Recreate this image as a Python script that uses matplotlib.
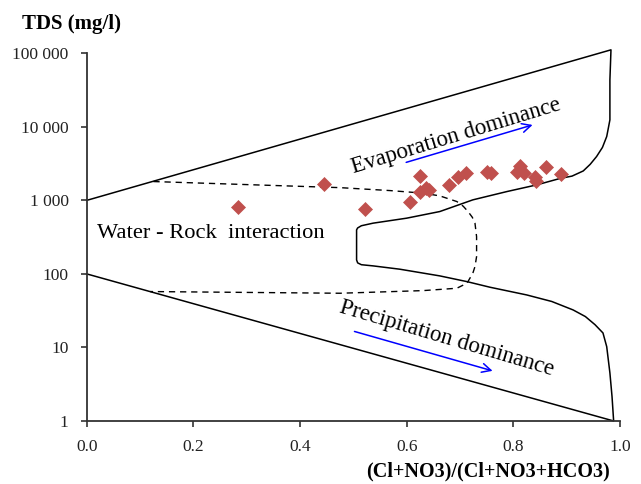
import numpy as np
import matplotlib
matplotlib.use("Agg")
import matplotlib.pyplot as plt

# ---- data: samples ----
ratio = [0.284, 0.445, 0.522, 0.606, 0.624, 0.625, 0.636, 0.642, 0.680, 0.697,
         0.711, 0.750, 0.758, 0.806, 0.812, 0.819, 0.841, 0.842, 0.861, 0.889]
tds = [816, 1661, 766, 946, 2153, 1293, 1494, 1390, 1625, 2108,
       2390, 2465, 2345, 2465, 2946, 2390, 2108, 1860, 2884, 2270]

# ---- Gibbs envelope (x, log10 TDS) ----
env_x = [0.0, 0.983, 0.981, 0.981, 0.978, 0.975, 0.967, 0.956, 0.944, 0.931, 0.910, 0.888,
         0.844, 0.788, 0.724, 0.662, 0.600, 0.537, 0.515, 0.508, 0.506,
         0.506, 0.508, 0.515, 0.537, 0.587, 0.662, 0.713, 0.756, 0.825, 0.872, 0.912,
         0.935, 0.953, 0.968, 0.975, 0.981, 0.985, 0.988, 0.0]
env_logy = [3.0, 5.047, 4.639, 4.095, 3.98, 3.868, 3.72, 3.596, 3.49, 3.40, 3.33, 3.299,
            3.211, 3.120, 3.007, 2.848, 2.758, 2.690, 2.655, 2.625, 2.599,
            2.190, 2.150, 2.125, 2.109, 2.064, 1.973, 1.895, 1.819, 1.714, 1.625, 1.510,
            1.42, 1.31, 1.197, 1.011, 0.653, 0.33, 0.0, 2.0]

# ---- water-rock interaction field (dashed) ----
wr_x = [0.125, 0.475, 0.569, 0.631, 0.662, 0.694, 0.706, 0.715, 0.723, 0.728, 0.731,
        0.731, 0.728, 0.724, 0.713, 0.694, 0.631, 0.475, 0.119]
wr_logy = [3.256, 3.173, 3.133, 3.098, 3.061, 2.984, 2.92, 2.848, 2.77, 2.690, 2.507,
           2.235, 2.10, 2.010, 1.873, 1.805, 1.773, 1.737, 1.76]

xticks = [0.0, 0.2, 0.4, 0.6, 0.8, 1.0]
xtick_labels = ["0.0", "0.2", "0.4", "0.6", "0.8", "1.0"]
yticks = [1, 10, 100, 1000, 10000, 100000]
ytick_labels = ["1", "10", "100", "1 000", "10 000", "100 000"]

serif = "Liberation Serif"

fig = plt.figure(figsize=(6.41, 4.84), dpi=100)
ax = fig.add_axes([0.1353, 0.1302, 0.832, 0.7597])

ax.set_yscale("log")
ax.set_xlim(0, 1)
ax.set_ylim(1, 100000)

ax.plot(env_x, 10 ** np.array(env_logy), color="black", lw=1.1, clip_on=False,
        solid_joinstyle="round")
ax.plot(wr_x, 10 ** np.array(wr_logy), color="black", lw=1.0, ls=(0, (4.5, 3.5)),
        clip_on=False)

ax.plot(ratio, tds, ls="none", marker="D", ms=7.0, color="#C0504D",
        markeredgecolor="#C0504D", markeredgewidth=0.5, zorder=5)

# arrows
ax.annotate("", xy=(0.841, 10880), xytext=(0.594, 3206),
            arrowprops=dict(arrowstyle="->", color="#0000FF", lw=1.1,
                            mutation_scale=16))
ax.annotate("", xy=(0.766, 4.69), xytext=(0.497, 16.9),
            arrowprops=dict(arrowstyle="->", color="#0000FF", lw=1.1,
                            mutation_scale=16))

ax.text(0.692, 7380, "Evaporation dominance", rotation=17, ha="center", va="center",
        fontsize=16.5, family=serif, rotation_mode="anchor")
ax.text(0.674, 13.3, "Precipitation dominance", rotation=-16.5, ha="center", va="center",
        fontsize=16.5, family=serif, rotation_mode="anchor")
ax.text(0.019, 350, "Water - Rock  interaction", ha="left", va="center",
        fontsize=16.2, family=serif)

ax.set_xticks(xticks, xtick_labels)
ax.set_yticks(yticks, ytick_labels)
ax.minorticks_off()
ax.yaxis.set_minor_locator(matplotlib.ticker.NullLocator())
for lab in ax.get_xticklabels() + ax.get_yticklabels():
    lab.set_family(serif)
    lab.set_fontsize(12.5)
    lab.set_color("#222222")
ax.tick_params(axis="both", direction="out", length=4, width=1.2, color="#333333")
ax.tick_params(axis="x", pad=9)
ax.tick_params(axis="y", pad=9)

for s in ["top", "right"]:
    ax.spines[s].set_visible(False)
for s in ["left", "bottom"]:
    ax.spines[s].set_color("#333333")
    ax.spines[s].set_linewidth(1.3)

fig.text(22 / 641, 1 - 24 / 484, "TDS (mg/l)", ha="left", va="center",
         fontsize=15, fontweight="bold", family=serif)
fig.text(610 / 641, 1 - 471 / 484, "(Cl+NO3)/(Cl+NO3+HCO3)", ha="right", va="center",
         fontsize=14.5, fontweight="bold", family=serif)

fig.savefig("out.png", dpi=100)
